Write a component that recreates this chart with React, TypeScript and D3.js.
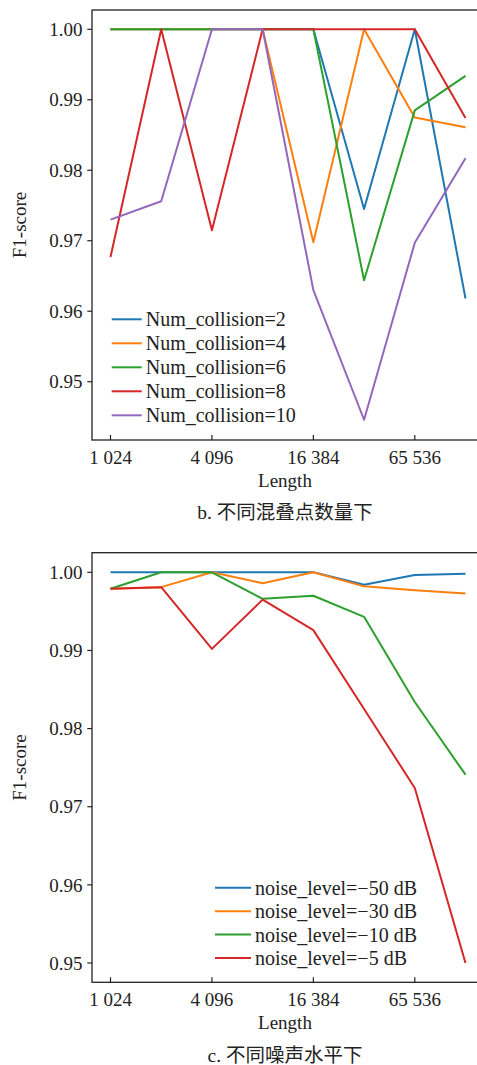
import React from 'react';
import * as d3 from 'd3';

const lengths = [1024, 2048, 4096, 8192, 16384, 32768, 65536, 131072];
const xTicks = [1024, 4096, 16384, 65536];
const yTicks = [0.95, 0.96, 0.97, 0.98, 0.99, 1.0];

// b. Num_collision
const collisionNames = ['Num_collision=2', 'Num_collision=4', 'Num_collision=6', 'Num_collision=8', 'Num_collision=10'];
const col2 = [1, 1, 1, 1, 1, 0.9745, 1, 0.9618];
const col4 = [1, 1, 1, 1, 0.9698, 1, 0.9875, 0.9861];
const col6 = [1, 1, 1, 1, 1, 0.9644, 0.9885, 0.9934];
const col8 = [0.9677, 1, 0.9715, 1, 1, 1, 1, 0.9874];
const col10 = [0.973, 0.9756, 1, 1, 0.963, 0.9446, 0.9697, 0.9817];

// c. noise level
const noiseNames = ['noise_level=\u221250 dB', 'noise_level=\u221230 dB', 'noise_level=\u221210 dB', 'noise_level=\u22125 dB'];
const noise50 = [1, 1, 1, 1, 1, 0.9984, 0.99965, 0.9998];
const noise30 = [0.9979, 0.9981, 1, 0.9986, 1, 0.9982, 0.9977, 0.9973];
const noise10 = [0.9979, 1, 1, 0.9966, 0.997, 0.9943, 0.9834, 0.9741];
const noise5 = [0.9979, 0.9981, 0.9902, 0.9965, 0.9926, 0.9825, 0.9724, 0.95];

const colors = ['#1f77b4', '#ff7f0e', '#2ca02c', '#d62728', '#9467bd'];
const serif = '"Liberation Serif", "Times New Roman", serif';
const cjk = '"Liberation Serif", "Noto Sans CJK SC", serif';

const fmtLen = (v) => {
  const s = String(v);
  return s.length > 3 ? s.slice(0, s.length - 3) + ' ' + s.slice(-3) : s;
};

const Panel = ({ top, bottom, y95, y100, series, names, legendX, legendY, legendGap, lineLen, caption, captionY }) => {
  const left = 92;
  const right = 478;
  const x = d3.scaleLog().base(2).domain([1024, 131072]).range([110.5, 465.5]);
  const y = d3.scaleLinear().domain([0.95, 1.0]).range([y95, y100]);
  const line = d3
    .line()
    .x((d) => x(d[0]))
    .y((d) => y(d[1]));
  const midX = (left + right) / 2;
  const midY = (top + bottom) / 2;

  return (
    <g>
      {series.map((s, i) => (
        <path
          key={i}
          d={line(lengths.map((l, j) => [l, s[j]]))}
          fill="none"
          stroke={colors[i]}
          strokeWidth={2}
          strokeLinejoin="round"
        />
      ))}
      <rect x={left} y={top} width={right - left} height={bottom - top} fill="none" stroke="#222" strokeWidth={1.3} />
      {yTicks.map((t) => (
        <g key={t}>
          <line x1={left - 4.7} x2={left} y1={y(t)} y2={y(t)} stroke="#222" strokeWidth={1.2} />
          <text x={left - 9.5} y={y(t)} dy="0.35em" textAnchor="end" fontFamily={serif} fontSize={19} fill="#222">
            {t.toFixed(2)}
          </text>
        </g>
      ))}
      {xTicks.map((t) => (
        <g key={t}>
          <line x1={x(t)} x2={x(t)} y1={bottom} y2={bottom - 5} stroke="#222" strokeWidth={1.2} />
          <text x={x(t)} y={bottom + 23.5} textAnchor="middle" fontFamily={serif} fontSize={19} fill="#222">
            {fmtLen(t)}
          </text>
        </g>
      ))}
      <text x={midX} y={bottom + 47} textAnchor="middle" fontFamily={serif} fontSize={19} fill="#222">
        Length
      </text>
      <text
        transform={`translate(26,${midY}) rotate(-90)`}
        textAnchor="middle"
        fontFamily={serif}
        fontSize={19}
        fill="#222"
      >
        F1-score
      </text>
      {names.map((n, i) => (
        <g key={n}>
          <line
            x1={legendX}
            x2={legendX + lineLen}
            y1={legendY + i * legendGap}
            y2={legendY + i * legendGap}
            stroke={colors[i]}
            strokeWidth={2}
          />
          <text
            x={legendX + lineLen + 4}
            y={legendY + i * legendGap}
            dy="0.35em"
            fontFamily={serif}
            fontSize={20}
            fill="#222"
          >
            {n}
          </text>
        </g>
      ))}
      <text x={midX} y={captionY} textAnchor="middle" fontFamily={cjk} fontSize={19.5} fill="#222">
        {caption}
      </text>
    </g>
  );
};

export default function App() {
  return (
    <svg
      width={477}
      height={1065}
      style={{ position: 'absolute', left: 0, top: 0, background: '#fff' }}
    >
      <Panel
        top={10}
        bottom={440}
        y95={381.7}
        y100={29.3}
        series={[col2, col4, col6, col8, col10]}
        names={collisionNames}
        legendX={111.7}
        legendY={319.3}
        legendGap={24}
        lineLen={30}
        caption="b. 不同混叠点数量下"
        captionY={519}
      />
      <Panel
        top={552.7}
        bottom={982.3}
        y95={963}
        y100={572.3}
        series={[noise50, noise30, noise10, noise5]}
        names={noiseNames}
        legendX={215}
        legendY={887.7}
        legendGap={23.45}
        lineLen={36}
        caption="c. 不同噪声水平下"
        captionY={1062}
      />
    </svg>
  );
}
